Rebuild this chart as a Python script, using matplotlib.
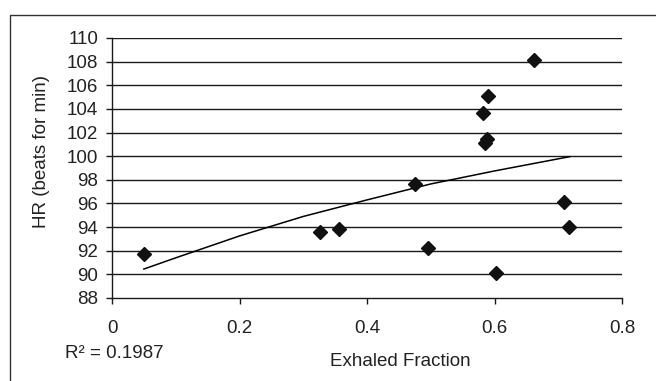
import numpy as np
import matplotlib
matplotlib.use("Agg")
import matplotlib.pyplot as plt
from matplotlib.lines import Line2D

plt.rcParams['font.family'] = ['Liberation Sans', 'DejaVu Sans']

exhaled_fraction = [0.050, 0.326, 0.356, 0.475, 0.496, 0.582, 0.590, 0.585, 0.589, 0.602, 0.662, 0.709, 0.717]
heart_rate = [91.74, 93.57, 93.88, 97.65, 92.22, 103.64, 105.13, 101.08, 101.42, 90.08, 108.12, 96.10, 94.02]
# trendline (curved, order-2 polynomial look)
trend_x = [0.050, 0.10, 0.20, 0.30, 0.40, 0.50, 0.60, 0.718]
trend_y = [90.45, 91.40, 93.25, 94.90, 96.30, 97.65, 98.75, 99.96]
y_ticks = [88, 90, 92, 94, 96, 98, 100, 102, 104, 106, 108, 110]
x_ticks = [0, 0.2, 0.4, 0.6, 0.8]
x_tick_labels = ['0', '0.2', '0.4', '0.6', '0.8']
r2_label = "R\u00b2 = 0.1987"

W, H = 656, 381
FS = 13.5
fig = plt.figure(figsize=(W / 100, H / 100), dpi=100)
ax = fig.add_axes([112 / W, 1 - 298 / H, (622 - 112) / W, (298 - 38) / H])

ax.plot(trend_x, trend_y, color='black', lw=1.1, zorder=3)
ax.plot(exhaled_fraction, heart_rate, linestyle='none', marker='D', markersize=7,
        color='#111111', zorder=4, clip_on=False)

ax.set_xlim(0, 0.8)
ax.set_ylim(88, 110)
ax.set_yticks(y_ticks)
ax.set_xticks(x_ticks)
ax.set_xticklabels(x_tick_labels)
for v in y_ticks[1:]:
    ax.axhline(v, color='#1a1a1a', lw=1.0, zorder=1)

for s in ['top', 'right']:
    ax.spines[s].set_visible(False)
for s in ['left', 'bottom']:
    ax.spines[s].set_color('#1a1a1a')
    ax.spines[s].set_linewidth(1.0)

ax.tick_params(axis='y', direction='out', length=4, width=1.0, pad=6, labelsize=FS, colors='#1a1a1a')
ax.tick_params(axis='x', direction='out', length=4, width=1.0, pad=12, labelsize=FS, colors='#1a1a1a')
for lab in ax.get_xticklabels() + ax.get_yticklabels():
    lab.set_color('#222222')

fig.text(42 / W, 1 - 152 / H, "HR (beats for min)", rotation=90, ha='center', va='center',
         fontsize=FS, color='#222222')
fig.text(400 / W, 1 - 362 / H, "Exhaled Fraction", ha='center', va='center',
         fontsize=FS, color='#222222')
fig.text(65 / W, 1 - 354 / H, r2_label, ha='left', va='center', fontsize=FS, color='#222222')

# outer frame (left and top edges)
fig.add_artist(Line2D([10 / W, 10 / W, 1.0], [0.0, 1 - 15 / H, 1 - 15 / H],
                      transform=fig.transFigure, color='#333333', lw=1.0))

fig.savefig("out.png", dpi=100)
